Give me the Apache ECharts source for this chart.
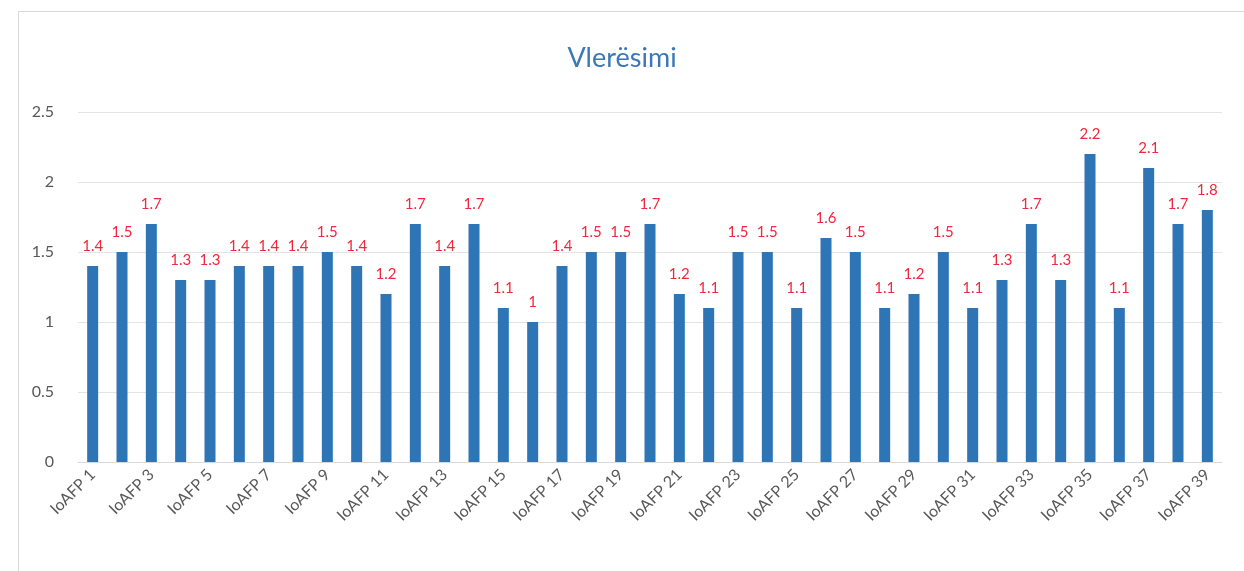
<!DOCTYPE html>
<html>
<head>
<meta charset="utf-8">
<script src="https://cdn.jsdelivr.net/npm/echarts@6/dist/echarts.min.js"></script>
<style>
html,body{margin:0;padding:0;background:#fff;}
#frame{position:absolute;left:18px;top:11px;width:1240px;height:570px;border:1px solid #d9d9d9;box-sizing:border-box;}
#chart{position:absolute;left:0;top:0;width:1244px;height:571px;}
</style>
</head>
<body>
<div id="frame"></div>
<div id="chart"></div>
<script>
// Vlerësimi - nje seri kolonash
var categories = [];
for (var i = 1; i <= 39; i++) categories.push('IoAFP ' + i);
var values = [1.4, 1.5, 1.7, 1.3, 1.3, 1.4, 1.4, 1.4, 1.5, 1.4,
              1.2, 1.7, 1.4, 1.7, 1.1, 1, 1.4, 1.5, 1.5, 1.7,
              1.2, 1.1, 1.5, 1.5, 1.1, 1.6, 1.5, 1.1, 1.2, 1.5,
              1.1, 1.3, 1.7, 1.3, 2.2, 1.1, 2.1, 1.7, 1.8];
var yTicks = [0, 0.5, 1, 1.5, 2, 2.5];

var myChart = echarts.init(document.getElementById('chart'));
var option = {
  animation: false,
  textStyle: { fontFamily: 'Lato, "Open Sans", sans-serif' },
  title: {
    text: 'Vlerësimi',
    left: 'center',
    top: 40,
    textStyle: { color: '#3b78b5', fontSize: 27, fontWeight: 'normal' }
  },
  grid: { left: 78, right: 22, top: 112, bottom: 109 },
  xAxis: {
    type: 'category',
    data: categories,
    axisLine: { lineStyle: { color: '#d9d9d9' } },
    axisTick: { show: false },
    axisLabel: {
      interval: 1,
      rotate: 45,
      color: '#595959',
      fontSize: 16,
      margin: 10
    }
  },
  yAxis: {
    type: 'value',
    min: yTicks[0],
    max: yTicks[yTicks.length - 1],
    interval: 0.5,
    axisLine: { show: false },
    axisTick: { show: false },
    splitLine: { lineStyle: { color: '#e4e4e4' } },
    axisLabel: { color: '#595959', fontSize: 16, margin: 24 }
  },
  series: [{
    type: 'bar',
    data: values,
    barWidth: 11,
    itemStyle: { color: '#2e75b6' },
    label: {
      show: true,
      position: 'top',
      distance: 12,
      color: '#f0283c',
      fontSize: 15
    }
  }]
};
myChart.setOption(option);
</script>
</body>
</html>
